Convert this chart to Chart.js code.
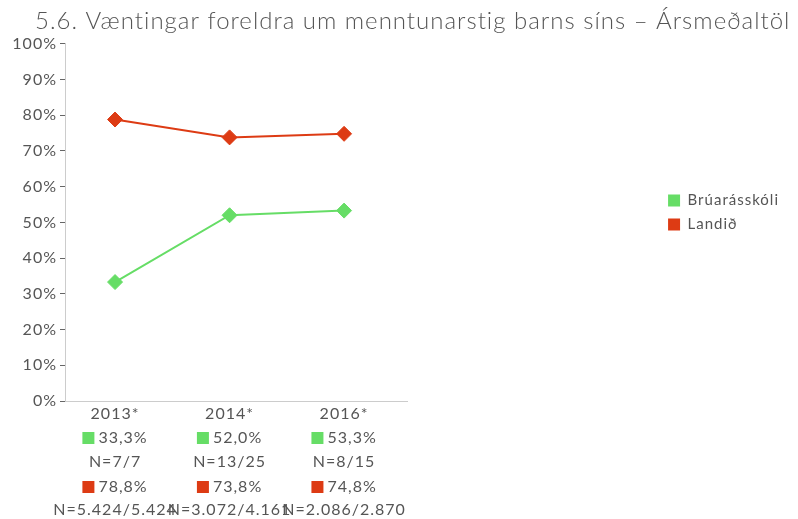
<!DOCTYPE html>
<html>
<head>
<meta charset="utf-8">
<script src="https://cdn.jsdelivr.net/npm/chart.js@4/dist/chart.umd.min.js"></script>
<style>
html,body{margin:0;padding:0;background:#fff;}
#wrap{width:798px;height:519px;position:relative;}
</style>
</head>
<body>
<div id="wrap"><canvas id="c" width="798" height="519"></canvas></div>
<script>
const titleText = '5.6. Væntingar foreldra um menntunarstig barns síns – Ársmeðaltöl';
const years = ['2013*', '2014*', '2016*'];
const seriesNames = ['Brúarásskóli', 'Landið'];
const schoolValues = [33.3, 52.0, 53.3];
const nationValues = [78.8, 73.8, 74.8];
const schoolN = ['N=7/7', 'N=13/25', 'N=8/15'];
const nationN = ['N=5.424/5.424', 'N=3.072/4.161', 'N=2.086/2.870'];
const yTicks = [0, 10, 20, 30, 40, 50, 60, 70, 80, 90, 100];

const GREEN = '#66dd66';
const RED = '#dd3b14';
const TXT = '#555555';
const FONT = 'Lato, "Open Sans", sans-serif';
const LS = '1px';

function fmtPct(v){ return v.toFixed(1).replace('.', ',') + '%'; }

const spacing = {
  id: 'spacing',
  beforeUpdate(chart) { chart.ctx.letterSpacing = LS; },
  beforeDraw(chart) { chart.ctx.letterSpacing = LS; },
  afterLayout(chart) {
    if (chart.titleBlock) { chart.titleBlock.left = 35; chart.titleBlock.right = 3000; }
    if (chart.legend) { chart.legend.top -= 10; chart.legend.bottom -= 10; }
  }
};

const bottomLabels = {
  id: 'bottomLabels',
  afterDraw(chart) {
    const ctx = chart.ctx;
    const xs = chart.scales.x;
    const base = chart.chartArea.bottom;
    ctx.save();
    ctx.letterSpacing = LS;
    ctx.font = '16px ' + FONT;
    ctx.fillStyle = TXT;
    ctx.textBaseline = 'middle';
    ctx.textAlign = 'left';
    const rows = [
      {type: 'text', arr: years, dy: 13},
      {type: 'pct', arr: schoolValues, color: GREEN, dy: 37},
      {type: 'text', arr: schoolN, dy: 61},
      {type: 'pct', arr: nationValues, color: RED, dy: 86},
      {type: 'text', arr: nationN, dy: 109}
    ];
    years.forEach((y, i) => {
      const cx = xs.getPixelForValue(i);
      rows.forEach(r => {
        const yy = base + r.dy;
        if (r.type === 'text') {
          const t = r.arr[i];
          const w = ctx.measureText(t).width;
          ctx.fillStyle = TXT;
          ctx.fillText(t, cx - w / 2, yy);
        } else {
          const t = fmtPct(r.arr[i]);
          const w = ctx.measureText(t).width;
          const total = 12 + 4 + w;
          const x0 = cx - total / 2;
          ctx.fillStyle = r.color;
          ctx.fillRect(x0, yy - 6, 12, 12);
          ctx.fillStyle = TXT;
          ctx.fillText(t, x0 + 16, yy);
        }
      });
    });
    ctx.restore();
  }
};

new Chart(document.getElementById('c'), {
  type: 'line',
  data: {
    datasets: [
      {
        label: seriesNames[0],
        data: schoolValues.map((v, i) => ({x: i, y: v})),
        borderColor: GREEN, backgroundColor: GREEN,
        borderWidth: 2, pointStyle: 'rectRot', pointRadius: 7.5,
        pointBorderWidth: 1, pointBackgroundColor: GREEN, pointBorderColor: GREEN,
        tension: 0
      },
      {
        label: seriesNames[1],
        data: nationValues.map((v, i) => ({x: i, y: v})),
        borderColor: RED, backgroundColor: RED,
        borderWidth: 2, pointStyle: 'rectRot', pointRadius: 7.5,
        pointBorderWidth: 1, pointBackgroundColor: RED, pointBorderColor: RED,
        tension: 0
      }
    ]
  },
  options: {
    responsive: false,
    animation: false,
    devicePixelRatio: 1,
    layout: { padding: { left: 0, right: 9, top: 0, bottom: 0 } },
    scales: {
      x: {
        type: 'linear',
        min: -0.437, max: 2.55,
        ticks: { display: false },
        grid: { display: false },
        border: { color: '#cccccc', width: 1 },
        afterFit(s) { s.height = 118; }
      },
      y: {
        min: 0, max: 100,
        afterBuildTicks(s) { s.ticks = yTicks.map(v => ({value: v})); },
        ticks: {
          callback: v => v + '%',
          color: TXT, font: { family: FONT, size: 16 }, padding: 3
        },
        grid: { drawOnChartArea: false, tickLength: 5, color: '#666666' },
        border: { color: '#cccccc', width: 1 },
        afterFit(s) { s.width = 65; }
      },
      dummy: {
        type: 'linear', position: 'right',
        display: true,
        ticks: { display: false },
        grid: { display: false },
        border: { display: false },
        afterFit(s) { s.width = 252; }
      }
    },
    plugins: {
      title: {
        display: true, text: titleText, align: 'start',
        color: TXT, font: { family: FONT, size: 24, weight: '300' },
        padding: { top: 7, bottom: 8 }
      },
      legend: {
        position: 'right', align: 'center', fullSize: false,
        labels: {
          boxWidth: 12, boxHeight: 12, padding: 9,
          color: TXT, font: { family: FONT, size: 15 },
          generateLabels(chart) {
            return chart.data.datasets.map((d, i) => ({
              text: d.label, fillStyle: d.borderColor, strokeStyle: d.borderColor,
              lineWidth: 0, hidden: false, datasetIndex: i, fontColor: TXT
            }));
          }
        }
      },
      tooltip: { enabled: false }
    }
  },
  plugins: [spacing, bottomLabels]
});
</script>
</body>
</html>
